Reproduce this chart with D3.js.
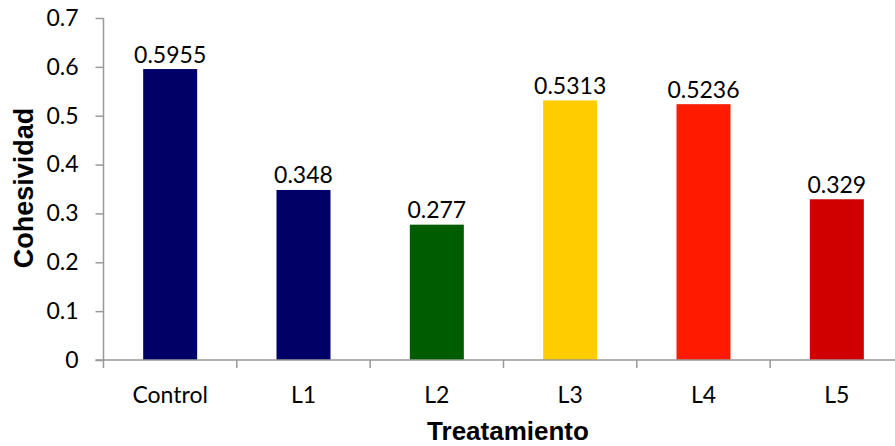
<!DOCTYPE html>
<html>
<head>
<meta charset="utf-8">
<script src="https://cdn.jsdelivr.net/npm/d3@7"></script>
<style>
  html, body { margin: 0; padding: 0; background: #fff; }
  svg { display: block; }
  text { font-family: Lato, "Open Sans", sans-serif; }
  .title { font-family: "Liberation Sans", Arial, sans-serif; font-weight: bold; }
</style>
</head>
<body>
<svg id="chart" width="895" height="446"></svg>
<script>
// Cohesividad por tratamiento
const categories = ["Control", "L1", "L2", "L3", "L4", "L5"];
const values = [0.5955, 0.348, 0.277, 0.5313, 0.5236, 0.329];
const valueLabels = ["0.5955", "0.348", "0.277", "0.5313", "0.5236", "0.329"];
const barColors = ["#000066", "#000066", "#005c00", "#ffcc00", "#ff1a00", "#d00000"];
const yTicks = [0, 0.1, 0.2, 0.3, 0.4, 0.5, 0.6, 0.7];
const yTickLabels = ["0", "0.1", "0.2", "0.3", "0.4", "0.5", "0.6", "0.7"];

(function () {
  const svg = d3.select("#chart");
  const plotL = 103.5, plotR = 903.5, plotT = 18, plotB = 360;
  const axisColor = "#999";
  const labelSize = 23;

  const x = d3.scaleBand().domain(categories).range([plotL, plotR]).paddingInner(0).paddingOuter(0);
  const y = d3.scaleLinear().domain([0, 0.7]).range([plotB, plotT]);
  const barW = x.bandwidth() * 0.405;

  // bars
  svg.selectAll("rect.bar").data(categories).join("rect")
    .attr("class", "bar")
    .attr("x", (d) => x(d) + x.bandwidth() / 2 - barW / 2)
    .attr("y", (d, i) => y(values[i]))
    .attr("width", barW)
    .attr("height", (d, i) => y(0) - y(values[i]))
    .attr("fill", (d, i) => barColors[i]);

  // value labels
  svg.selectAll("text.val").data(categories).join("text")
    .attr("class", "val")
    .attr("x", (d) => x(d) + x.bandwidth() / 2)
    .attr("y", (d, i) => y(values[i]) - 6.5)
    .attr("text-anchor", "middle")
    .attr("font-size", labelSize)
    .attr("fill", "#000")
    .text((d, i) => valueLabels[i]);

  // y axis
  const yAxis = d3.axisLeft(y).tickValues(yTicks)
    .tickFormat((d, i) => yTickLabels[i]).tickSize(8).tickPadding(17);
  const gy = svg.append("g").attr("transform", `translate(${plotL},0)`).call(yAxis);
  gy.select(".domain").attr("stroke", axisColor).attr("stroke-width", 1.5).attr("d", `M0,${plotT}V${plotB}`);
  gy.selectAll(".tick line").attr("stroke", axisColor).attr("stroke-width", 1.5);
  gy.selectAll(".tick text").attr("font-size", labelSize).attr("fill", "#000")
    .attr("font-family", "Lato, 'Open Sans', sans-serif");

  // x axis: baseline with separators between categories
  const gx = svg.append("g");
  gx.append("line").attr("x1", plotL - 8).attr("x2", plotR).attr("y1", plotB).attr("y2", plotB)
    .attr("stroke", axisColor).attr("stroke-width", 1.5);
  const bounds = categories.map((d) => x(d)).concat([plotR]);
  gx.selectAll("line.sep").data(bounds).join("line")
    .attr("class", "sep")
    .attr("x1", (d) => d).attr("x2", (d) => d)
    .attr("y1", plotB).attr("y2", plotB + 8)
    .attr("stroke", axisColor).attr("stroke-width", 1.5);
  gx.selectAll("text.cat").data(categories).join("text")
    .attr("class", "cat")
    .attr("x", (d) => x(d) + x.bandwidth() / 2)
    .attr("y", 403)
    .attr("text-anchor", "middle")
    .attr("font-size", labelSize)
    .attr("fill", "#000")
    .text((d) => d);

  // axis titles
  svg.append("text")
    .attr("class", "title")
    .attr("transform", "translate(33, 188) rotate(-90)")
    .attr("text-anchor", "middle")
    .attr("font-size", 27)
    .text("Cohesividad");
  svg.append("text")
    .attr("class", "title")
    .attr("x", 508)
    .attr("y", 440)
    .attr("text-anchor", "middle")
    .attr("font-size", 26)
    .text("Treatamiento");
})();
</script>
</body>
</html>
